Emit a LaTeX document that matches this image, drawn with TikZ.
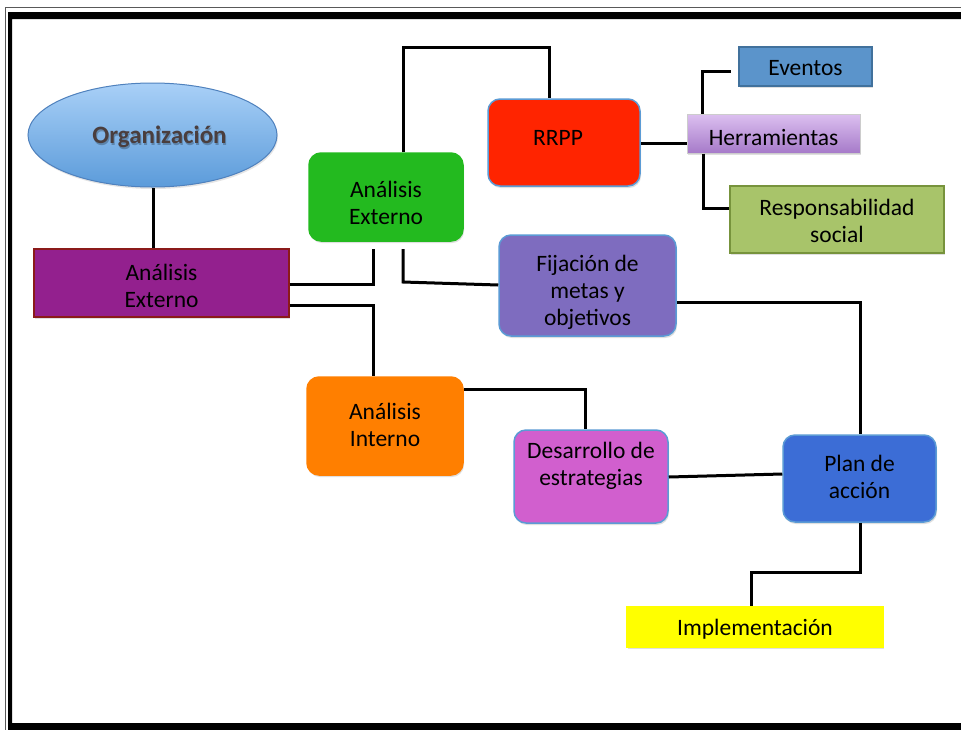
\documentclass[tikz,border=0pt]{standalone}
\usepackage{fontspec}
\setmainfont{Carlito}
\usetikzlibrary{shadows,shapes.geometric}
\definecolor{cOrgTop}{HTML}{A9D0F7}
\definecolor{cOrgBot}{HTML}{5B9BDA}
\definecolor{cOrgDraw}{HTML}{4F81BD}
\definecolor{cPurp}{HTML}{93208E}
\definecolor{cPurpDraw}{HTML}{8B1A1A}
\definecolor{cGreen}{HTML}{23BA1F}
\definecolor{cRed}{HTML}{FF2400}
\definecolor{cEdge}{HTML}{5B9BD5}
\definecolor{cFij}{HTML}{7E6CBF}
\definecolor{cOrange}{HTML}{FF7F00}
\definecolor{cDes}{HTML}{D15FCE}
\definecolor{cPlan}{HTML}{3C6DD6}
\definecolor{cYellow}{HTML}{FFFF00}
\definecolor{cEv}{HTML}{5B94CB}
\definecolor{cEvDraw}{HTML}{41719C}
\definecolor{cHerTop}{HTML}{DCC0F0}
\definecolor{cHerBot}{HTML}{A67AC9}
\definecolor{cRs}{HTML}{A8C46A}
\definecolor{cRsDraw}{HTML}{77933C}
\definecolor{cOrgTxt}{HTML}{4A3E3E}
\tikzset{
  box/.style={inner sep=0pt,
    drop shadow={opacity=0.25, shadow xshift=1pt, shadow yshift=-2pt}},
  rbox/.style={box, rounded corners=12pt, line width=1.5pt},
  sbox/.style={box, line width=1.2pt},
  lbl/.style={inner sep=0pt, align=center, font=\fontsize{23.5}{27}\selectfont},
  conn/.style={line width=3pt, black},
}
\begin{document}
\begin{tikzpicture}[x=1pt,y=-1pt]
\useasboundingbox (0,0) rectangle (961,729);
\clip (0,0) rectangle (961,729);
% frame
\fill[white] (0,0) rectangle (961,729);
\draw[gray!70!black, line width=1pt] (5.5,7.5) rectangle (1000,800);
\fill[black, even odd rule] (8,12) rectangle (1000,800) (12,19) rectangle (985,723);
% shapes
\node[ellipse, minimum width=249pt, minimum height=104pt, top color=cOrgTop, bottom color=cOrgBot,
  draw=cOrgDraw, line width=1pt, inner sep=0pt,
  drop shadow={opacity=0.2, shadow xshift=1pt, shadow yshift=-2pt}] (org) at (152.5,135) {};
\node[sbox, fill=cPurp, draw=cPurpDraw, minimum width=255pt, minimum height=68pt] (purp) at (161.5,283) {};
\node[rbox, fill=cGreen, draw=cGreen, minimum width=154pt, minimum height=88pt] (green) at (386,197) {};
\node[rbox, fill=cRed, draw=cEdge, minimum width=152pt, minimum height=87pt] (rrpp) at (564,142.5) {};
\node[rbox, fill=cFij, draw=cEdge, minimum width=177pt, minimum height=101pt] (fij) at (587.5,285.5) {};
\node[rbox, fill=cOrange, draw=cOrange, minimum width=156pt, minimum height=98pt] (ai) at (385,426) {};
\node[rbox, fill=cDes, draw=cEdge, minimum width=154pt, minimum height=93pt] (des) at (591,476.5) {};
\node[rbox, fill=cPlan, draw=cEdge, minimum width=153pt, minimum height=87pt] (plan) at (859.5,478.5) {};
\node[sbox, fill=cYellow, draw=cYellow, minimum width=256pt, minimum height=40pt] (impl) at (755,627) {};
\node[sbox, fill=cEv, draw=cEvDraw, minimum width=133pt, minimum height=39pt] (ev) at (805.5,66.5) {};
\node[sbox, top color=cHerTop, bottom color=cHerBot, draw=gray!40, line width=1pt, minimum width=173pt, minimum height=39pt] (her) at (773.5,133.5) {};
\node[sbox, fill=cRs, draw=cRsDraw, minimum width=214pt, minimum height=67pt] (rs) at (837,219.5) {};
% texts
\node[font=\fontsize{25}{28}\selectfont\bfseries, text=black, opacity=0.25] (orgs) at (160.5,138.5) {Organización};
\node[font=\fontsize{25}{28}\selectfont\bfseries, text=cOrgTxt] (orgt) at (159.5,137) {Organización};
\node[lbl] (purpt) at (161.5,285.5) {Análisis\\Externo};
\node[lbl] (greent) at (386,203) {Análisis\\Externo};
\node[lbl] (rrppt) at (558,137.5) {RRPP};
\node[lbl] (fijt) at (587.5,292) {Fijación de\\metas y\\objetivos};
\node[lbl] (ait) at (385,424.5) {Análisis\\Interno};
\node[lbl] (dest) at (591,465.5) {Desarrollo de\\estrategias};
\node[lbl] (plant) at (859.5,476.5) {Plan de\\acción};
\node[lbl] (implt) at (755,629) {Implementación};
\node[lbl] (evt) at (805.5,68.5) {Eventos};
\node[lbl] (hert) at (773.5,137) {Herramientas};
\node[lbl] (rst) at (837,220.5) {Responsabilidad\\social};
% free-end coordinates
\coordinate (gA) at (373,249);
\coordinate (gB) at (403,249);
\coordinate (evL) at (731,71);
% connectors
\draw[conn] (org.south -| 153,0) -- (purp.north -| 153,0);
\draw[conn] (purp.east |- 0,284) -| (gA);
\draw[conn] (gB) -- (403,282) -- (fij.west |- 0,285);
\draw[conn] (purp.east |- 0,305) -| (ai.north -| 373,0);
\draw[conn] (green.north -| 403,0) |- (549,47) -| (rrpp.north -| 549,0);
\draw[conn] (rrpp.east |- 0,143) -- (her.west |- 0,143);
\draw[conn] (her.north -| 702,0) |- (evL);
\draw[conn] (her.south -| 703,0) |- (rs.west |- 0,208);
\draw[conn] (ai.east |- 0,389) -| (des.north -| 585,0);
\draw[conn] (fij.east |- 0,302) -| (plan.north -| 860,0);
\draw[conn] (des.east |- 0,477) -- (plan.west |- 0,474);
\draw[conn] (plan.south -| 860,0) |- (751,572) -- (impl.north -| 751,0);
\end{tikzpicture}
\end{document}
